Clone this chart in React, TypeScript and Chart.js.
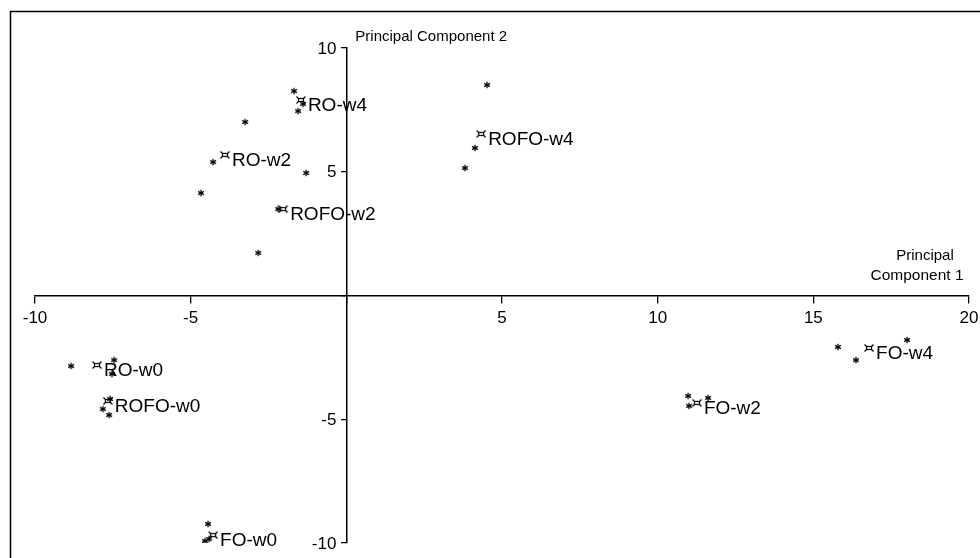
import React, { useEffect, useRef } from 'react';
import { Chart, registerables } from 'chart.js';

Chart.register(...registerables);

// Group (centroid) labels and coordinates
const groupNames = ['RO-w0', 'RO-w2', 'RO-w4', 'ROFO-w0', 'ROFO-w2', 'ROFO-w4', 'FO-w0', 'FO-w2', 'FO-w4'];
const centroidX = [-8.01, -3.9, -1.46, -7.66, -2.03, 4.33, -4.28, 11.26, 16.79];
const centroidY = [-2.81, 5.68, 7.9, -4.26, 3.49, 6.53, -9.68, -4.34, -2.12];

// Individual replicates (three per group)
const replicateX = [
  -8.84, -7.46, -7.53,
  -4.28, -3.25, -4.67,
  -1.68, -1.39, -1.55,
  -7.82, -7.62, -7.59,
  -2.19, -2.83, -1.29,
  4.52, 4.13, 3.81,
  -4.44, -4.54, -4.41,
  10.98, 11.01, 11.62,
  15.79, 16.37, 18.01,
];
const replicateY = [
  -2.85, -2.61, -3.17,
  5.39, 7.01, 4.14,
  8.26, 7.74, 7.45,
  -4.59, -4.83, -4.18,
  3.49, 1.72, 4.95,
  8.51, 5.96, 5.15,
  -9.23, -9.92, -9.84,
  -4.06, -4.46, -4.14,
  -2.08, -2.61, -1.8,
];

const xMin = -10;
const xMax = 20;
const yMin = -10;
const yMax = 10;
const tickStep = 5;

const xTitle = ['Principal', 'Component 1'];
const yTitle = 'Principal Component 2';

const FONT = '"Liberation Sans", Arial, Helvetica, sans-serif';

function makeStar(): HTMLCanvasElement {
  const c = document.createElement('canvas');
  c.width = 10;
  c.height = 10;
  const ctx = c.getContext('2d')!;
  ctx.strokeStyle = '#000';
  ctx.lineWidth = 1.3;
  const cx = 5, cy = 5, r = 3.3;
  for (let k = 0; k < 3; k++) {
    const a = Math.PI / 2 + (k * Math.PI) / 3;
    ctx.beginPath();
    ctx.moveTo(cx + r * Math.cos(a), cy + r * Math.sin(a));
    ctx.lineTo(cx - r * Math.cos(a), cy - r * Math.sin(a));
    ctx.stroke();
  }
  return c;
}

function makeBox(): HTMLCanvasElement {
  const c = document.createElement('canvas');
  c.width = 12;
  c.height = 10;
  const ctx = c.getContext('2d')!;
  ctx.strokeStyle = '#000';
  ctx.lineWidth = 1.2;
  ctx.strokeRect(3.5, 3.5, 5, 3);
  ctx.beginPath();
  ctx.moveTo(3.5, 3.5); ctx.lineTo(1.5, 1.5);
  ctx.moveTo(8.5, 3.5); ctx.lineTo(10.5, 1.5);
  ctx.moveTo(3.5, 6.5); ctx.lineTo(1.5, 8.5);
  ctx.moveTo(8.5, 6.5); ctx.lineTo(10.5, 8.5);
  ctx.stroke();
  return c;
}

const decorPlugin = {
  id: 'decor',
  beforeDraw(chart: any) {
    const ctx = chart.ctx;
    ctx.save();
    ctx.strokeStyle = '#000';
    ctx.lineWidth = 1.5;
    ctx.beginPath();
    ctx.moveTo(10.5, 558);
    ctx.lineTo(10.5, 11.5);
    ctx.lineTo(980, 11.5);
    ctx.stroke();
    ctx.restore();
  },
  afterDraw(chart: any) {
    const ctx = chart.ctx;
    const xs = chart.scales.x;
    const ys = chart.scales.y;
    const x0 = xs.getPixelForValue(0);
    const y0 = ys.getPixelForValue(0);
    ctx.save();
    ctx.fillStyle = '#000';
    // Y tick labels, to the left of the crossing axis
    ctx.font = `17px ${FONT}`;
    ctx.textAlign = 'right';
    ctx.textBaseline = 'middle';
    ys.ticks.forEach((t: any) => {
      if (t.value === 0) return;
      ctx.fillText(String(t.value), x0 - 10, ys.getPixelForValue(t.value) + 1);
    });
    // Group labels beside centroid markers
    ctx.font = `19px ${FONT}`;
    ctx.textAlign = 'left';
    const meta = chart.getDatasetMeta(1);
    meta.data.forEach((el: any, i: number) => {
      ctx.fillText(groupNames[i], el.x + 7, el.y + 6);
    });
    // Axis titles
    ctx.font = `15px ${FONT}`;
    const yTop = ys.getPixelForValue(yMax);
    ctx.fillText(yTitle, x0 + 9, yTop - 11);
    ctx.textAlign = 'center';
    const xRight = xs.getPixelForValue(xMax);
    ctx.fillText(xTitle[0], xRight - 44, y0 - 40);
    ctx.font = `15.5px ${FONT}`;
    ctx.fillText(xTitle[1], xRight - 52, y0 - 20);
    ctx.restore();
  },
};

export default function App() {
  const ref = useRef<HTMLCanvasElement | null>(null);

  useEffect(() => {
    if (!ref.current) return;
    const star = makeStar();
    const box = makeBox();
    const chart = new Chart(ref.current, {
      type: 'scatter',
      data: {
        datasets: [
          {
            label: 'Replicates',
            data: replicateX.map((x, i) => ({ x, y: replicateY[i] })),
            pointStyle: star as any,
            pointRadius: 4,
            backgroundColor: '#000',
            borderColor: '#000',
          },
          {
            label: 'Groups',
            data: centroidX.map((x, i) => ({ x, y: centroidY[i] })),
            pointStyle: box as any,
            pointRadius: 5,
            backgroundColor: '#000',
            borderColor: '#000',
          },
        ],
      },
      options: {
        animation: false,
        responsive: false,
        events: [],
        layout: { padding: { left: 35, right: 11, top: 48, bottom: 15 } },
        plugins: { legend: { display: false }, tooltip: { enabled: false } },
        scales: {
          x: {
            type: 'linear',
            min: xMin,
            max: xMax,
            position: { y: 0 } as any,
            afterFit: (s: any) => {
              s.height = 0;
              s.paddingLeft = 0;
              s.paddingRight = 0;
              s.paddingTop = 0;
              s.paddingBottom = 0;
            },
            grid: { display: true, drawOnChartArea: false, drawTicks: true, tickLength: 7, color: '#000', lineWidth: 1.3 },
            border: { display: true, color: '#000', width: 1.5 },
            ticks: {
              stepSize: tickStep,
              padding: 6,
              color: '#000',
              maxRotation: 0,
              font: { family: FONT, size: 17 },
              callback: (v: any) => (Number(v) === 0 ? '' : String(v)),
            },
          },
          y: {
            type: 'linear',
            min: yMin,
            max: yMax,
            position: { x: 0 } as any,
            afterFit: (s: any) => {
              s.width = 0;
              s.paddingLeft = 0;
              s.paddingRight = 0;
              s.paddingTop = 0;
              s.paddingBottom = 0;
            },
            grid: { display: true, drawOnChartArea: false, drawTicks: true, tickLength: 5, color: '#000', lineWidth: 1.3 },
            border: { display: true, color: '#000', width: 1.5 },
            ticks: {
              stepSize: tickStep,
              display: false,
            },
          },
        },
      },
      plugins: [decorPlugin],
    });
    return () => chart.destroy();
  }, []);

  return (
    <div style={{ position: 'absolute', left: 0, top: 0, width: 980, height: 558, background: '#fff' }}>
      <canvas ref={ref} width={980} height={558} style={{ display: 'block' }} />
    </div>
  );
}
